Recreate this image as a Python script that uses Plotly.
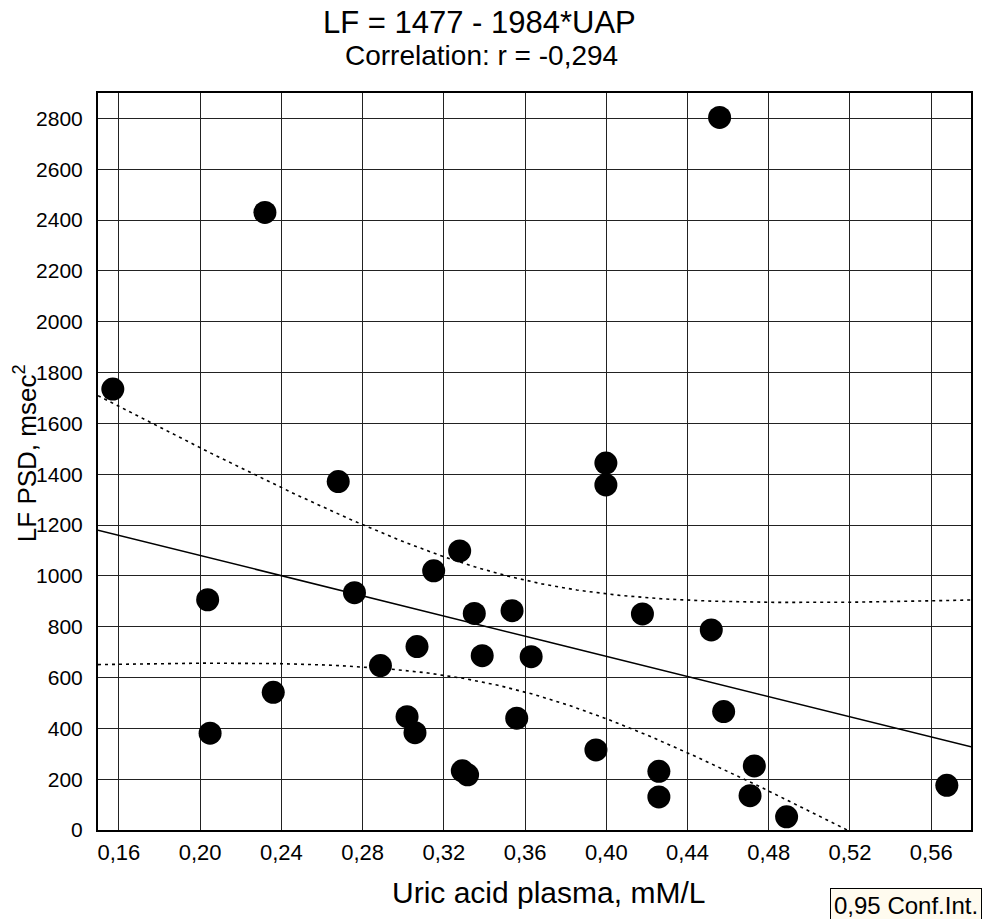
import numpy as np
import plotly.graph_objects as go

# Data: uric acid plasma (mM/L) vs LF PSD (msec^2)
uap = [0.157, 0.2319, 0.4558, 0.2037, 0.2049, 0.2360, 0.2680, 0.2760, 0.2888,
       0.3019, 0.3058, 0.3068, 0.3150, 0.3278, 0.3291, 0.3317, 0.3350, 0.3389,
       0.3536, 0.3559, 0.3630, 0.3949, 0.3998, 0.3998, 0.4178, 0.4259, 0.4259,
       0.4517, 0.4578, 0.4729, 0.4708, 0.4888, 0.5677]
lf = [1735, 2430, 2804, 906, 381, 542, 1371, 934, 647,
      446, 383, 722, 1020, 1098, 233, 217, 852, 686,
      863, 440, 682, 315, 1444, 1358, 850, 231, 130,
      787, 466, 252, 135, 52, 176]

intercept = 1477.0
slope = -1984.0
conf_level_t = 2.0395  # t(0.975, df=31)

x_range = [0.1497, 0.5796]
y_range = [0, 2900]

title_text = "LF = 1477 - 1984*UAP"
subtitle_text = "Correlation: r = -0,294"
x_title = "Uric acid plasma, mM/L"
y_title = "LF PSD, msec<sup>2</sup>"
legend_text = "0,95 Conf.Int."

x = np.array(uap)
y = np.array(lf)
n = len(x)
resid = y - (intercept + slope * x)
s = np.sqrt(np.sum(resid ** 2) / (n - 2))
xbar = x.mean()
sxx = np.sum((x - xbar) ** 2)

xs = np.linspace(x_range[0], x_range[1], 300)
fit = intercept + slope * xs
hw = conf_level_t * s * np.sqrt(1.0 / n + (xs - xbar) ** 2 / sxx)

FONT = "Liberation Sans, Arial, sans-serif"

fig = go.Figure()
fig.add_trace(go.Scatter(x=xs, y=fit, mode="lines",
                         line=dict(color="black", width=1.5), showlegend=False))
fig.add_trace(go.Scatter(x=xs, y=fit + hw, mode="lines",
                         line=dict(color="black", width=1.6, dash="3px,4px"), showlegend=False))
fig.add_trace(go.Scatter(x=xs, y=fit - hw, mode="lines",
                         line=dict(color="black", width=1.6, dash="3px,4px"), showlegend=False))
fig.add_trace(go.Scatter(x=uap, y=lf, mode="markers",
                         marker=dict(color="black", size=23, line=dict(width=0)),
                         showlegend=False))

fig.update_layout(
    width=982, height=919,
    margin=dict(l=98, r=9, t=93, b=89),
    paper_bgcolor="white", plot_bgcolor="white",
    font=dict(family=FONT, color="black"),
    separators=",.",
    xaxis=dict(range=x_range, tick0=0.16, dtick=0.04, tickformat=".2f",
               showgrid=True, gridcolor="#222", gridwidth=1,
               showline=True, linecolor="black", linewidth=2, mirror=True,
               zeroline=False, ticks="", ticklabelstandoff=2,
               tickfont=dict(size=22, family=FONT)),
    yaxis=dict(range=y_range, tick0=0, dtick=200, tickformat="d",
               showgrid=True, gridcolor="#222", gridwidth=1,
               showline=True, linecolor="black", linewidth=2, mirror=True,
               zeroline=False, ticks="", ticklabelstandoff=9,
               tickfont=dict(size=21, family=FONT)),
    annotations=[
        dict(text=title_text, xref="paper", yref="paper", x=0.437, y=1 + (93 - 23) / 737,
             xanchor="center", yanchor="middle", showarrow=False,
             font=dict(size=31, family=FONT)),
        dict(text=subtitle_text, xref="paper", yref="paper", x=0.439, y=1 + (93 - 55) / 737,
             xanchor="center", yanchor="middle", showarrow=False,
             font=dict(size=28, family=FONT)),
        dict(text=x_title, xref="paper", yref="paper", x=(549.5 - 98) / 875, y=-(892 - 830) / 737,
             xanchor="center", yanchor="middle", showarrow=False,
             font=dict(size=30, family=FONT)),
        dict(text=y_title, xref="paper", yref="paper", x=-(98 - 25) / 875, y=(830 - 453) / 737,
             xanchor="center", yanchor="middle", showarrow=False, textangle=-90,
             font=dict(size=26, family=FONT)),
        dict(text=legend_text, xref="paper", yref="paper", x=(832 - 98) / 875, y=-(888 - 830) / 737,
             xanchor="left", yanchor="top", showarrow=False,
             bgcolor="#fffbef", bordercolor="black", borderwidth=1, borderpad=3,
             font=dict(size=24, family=FONT)),
    ],
)

fig.write_html("out.html")
